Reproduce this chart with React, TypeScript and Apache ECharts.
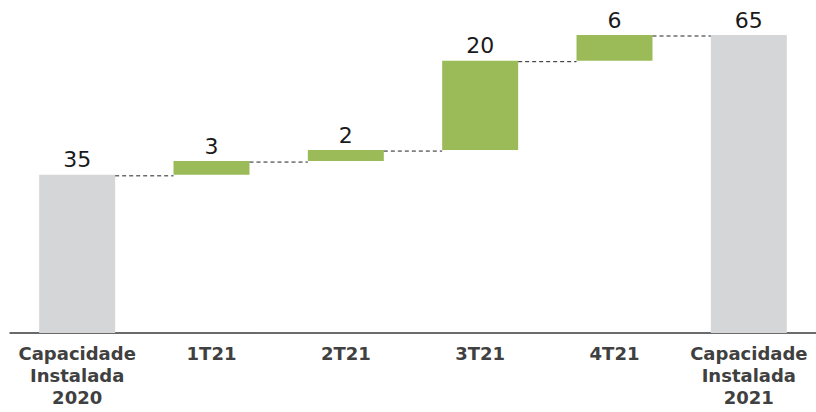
import React, { useEffect, useRef } from "react";
import * as echarts from "echarts";

const categories = [
  "Capacidade\nInstalada\n2020",
  "1T21",
  "2T21",
  "3T21",
  "4T21",
  "Capacidade\nInstalada\n2021",
];
const startValue = 34.5;
const deltas = [3.0, 2.4, 19.5, 5.6];
const endValue = 65.0;

const GREY = "#D5D6D8";
const GREEN = "#9BBB59";
const BAR_W = 76;

export default function App() {
  const ref = useRef<HTMLDivElement>(null);
  useEffect(() => {
    if (!ref.current) return;
    const chart = echarts.init(ref.current, null, { renderer: "svg" });

    const bases: number[] = [0];
    const heights: number[] = [startValue];
    const levels: number[] = [startValue];
    let cum = startValue;
    deltas.forEach((d) => {
      bases.push(cum);
      heights.push(d);
      cum += d;
      levels.push(cum);
    });
    bases.push(0);
    heights.push(endValue);

    const valueData = heights.map((v, i) => ({
      value: v,
      itemStyle: { color: i === 0 || i === heights.length - 1 ? GREY : GREEN },
    }));

    chart.setOption({
      animation: false,
      grid: { left: 10, top: 35, bottom: 79, width: 809, containLabel: false },
      xAxis: {
        type: "category",
        data: categories,
        axisLine: { lineStyle: { color: "#3a3a3a", width: 1.5 } },
        axisTick: { show: false },
        axisLabel: {
          interval: 0,
          margin: 9,
          color: "#404040",
          fontWeight: "bold",
          fontSize: 18,
          lineHeight: 22,
          fontFamily: "'DejaVu Sans', sans-serif",
        },
      },
      yAxis: {
        type: "value",
        min: 0,
        max: 65,
        show: false,
        splitLine: { show: false },
      },
      series: [
        {
          type: "bar",
          stack: "w",
          data: bases,
          barWidth: BAR_W,
          itemStyle: { color: "transparent" },
          silent: true,
        },
        {
          type: "bar",
          stack: "w",
          data: valueData,
          barWidth: BAR_W,
          label: {
            show: true,
            position: "top",
            distance: 4,
            color: "#1a1a1a",
            fontSize: 22,
            fontFamily: "'DejaVu Sans', sans-serif",
            formatter: (p: any) => String(Math.round(p.value)),
          },
        },
        {
          type: "custom",
          data: levels.map((l, i) => [i, l]),
          renderItem: (params: any, api: any) => {
            const i = api.value(0);
            const l = api.value(1);
            const a = api.coord([i, l]);
            const b = api.coord([i + 1, l]);
            return {
              type: "line",
              shape: { x1: a[0] + BAR_W / 2, y1: a[1] + 1, x2: b[0] - BAR_W / 2, y2: b[1] + 1 },
              style: { stroke: "#222", lineWidth: 1, lineDash: [4, 3] },
            };
          },
          z: 3,
        },
      ],
    });
    return () => chart.dispose();
  }, []);
  return (
    <div
      ref={ref}
      style={{ position: "fixed", left: 0, top: 0, width: 816, height: 412, background: "#fff" }}
    />
  );
}
